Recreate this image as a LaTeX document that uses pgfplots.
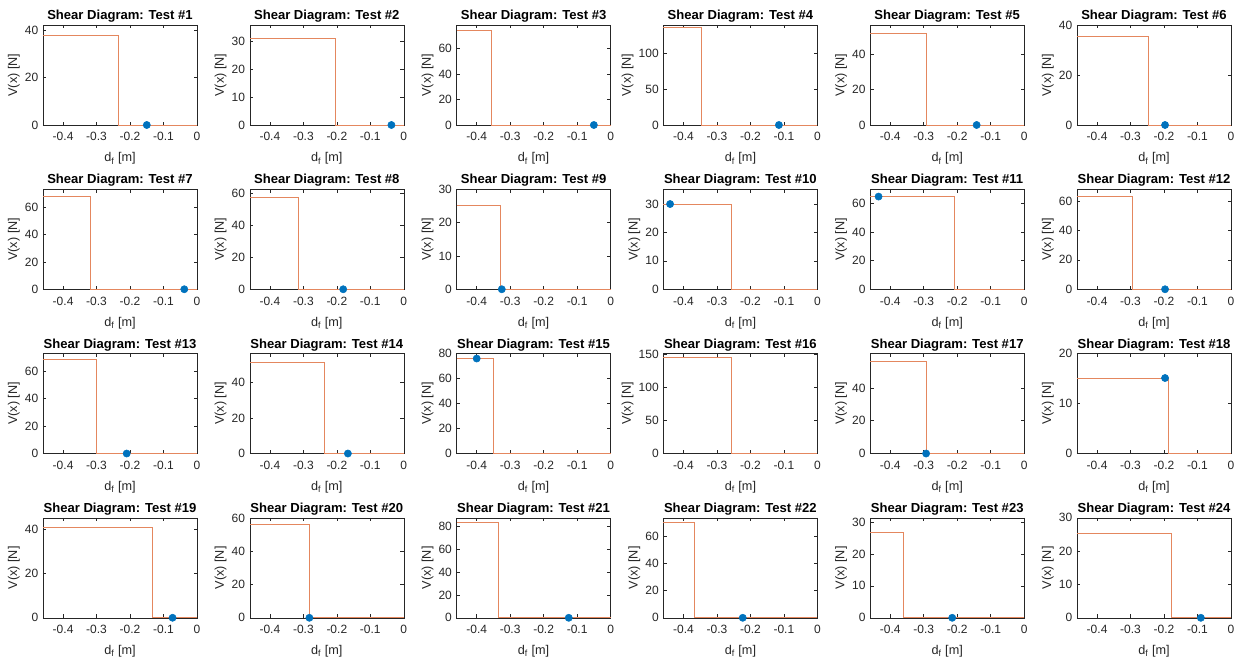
\documentclass[border=0pt]{standalone}
\usepackage{fontspec}
\setmainfont{Liberation Sans}
\usepackage{pgfplots}
\pgfplotsset{compat=1.18}
\usepgfplotslibrary{groupplots}
\definecolor{mblue}{HTML}{0072BD}
\definecolor{morange}{HTML}{D95319}
\definecolor{axgray}{HTML}{262626}
\pgfplotsset{
 shear/.style={
  scale only axis, width=115.5pt, height=75pt,
  xmin=-0.46, xmax=0, ymin=0, clip=false,
  xtick={-0.4,-0.3,-0.2,-0.1,0},
  axis line style={axgray, line width=0.4pt},
  tick style={axgray, line width=0.4pt},
  tick align=inside, major tick length=2.5pt,
  ticklabel style={font=\fontsize{9}{10}\selectfont, text=axgray},
  /pgf/number format/assume math mode=true,
  xticklabel style={/pgf/number format/fixed, /pgf/number format/precision=1, yshift=-2pt},
  xlabel={d\textsubscript{f} [m]}, ylabel={V(x) [N]},
  label style={font=\fontsize{9.5}{11}\selectfont, text=axgray},
  title style={font=\bfseries\fontsize{9.8}{11}\selectfont, yshift=-7.5pt},
  xlabel style={yshift=-2pt},
  ylabel style={yshift=-3pt},
 },
 sh/.style={morange!70!white, line width=0.5pt},
 dt/.style={only marks, mark=*, mark size=2.7pt, mblue, mark options={draw=mblue, fill=mblue}},
}
\begin{document}
\begin{tikzpicture}
\begin{groupplot}[shear, group style={group size=6 by 4, horizontal sep=39.6pt, vertical sep=48.2pt}]
\nextgroupplot[title={Shear Diagram: Test \#1}, ymax=42.1, ytick={0,20,40}]
\coordinate (TL) at (rel axis cs:0,1);
\addplot[sh] coordinates {(-0.46,37.9) (-0.235,37.9) (-0.235,0) (0,0)};
\addplot[dt] coordinates {(-0.150,0)};
\nextgroupplot[title={Shear Diagram: Test \#2}, ymax=36, ytick={0,10,20,30}]
\addplot[sh] coordinates {(-0.46,31.2) (-0.206,31.2) (-0.206,0) (0,0)};
\addplot[dt] coordinates {(-0.037,0)};
\nextgroupplot[title={Shear Diagram: Test \#3}, ymax=78.3, ytick={0,20,40,60}]
\addplot[sh] coordinates {(-0.46,74.3) (-0.357,74.3) (-0.357,0) (0,0)};
\addplot[dt] coordinates {(-0.050,0)};
\nextgroupplot[title={Shear Diagram: Test \#4}, ymax=139.5, ytick={0,50,100}]
\addplot[sh] coordinates {(-0.46,135.8) (-0.348,135.8) (-0.348,0) (0,0)};
\addplot[dt] coordinates {(-0.115,0)};
\nextgroupplot[title={Shear Diagram: Test \#5}, ymax=56.6, ytick={0,20,40}]
\addplot[sh] coordinates {(-0.46,51.9) (-0.293,51.9) (-0.293,0) (0,0)};
\addplot[dt] coordinates {(-0.142,0)};
\nextgroupplot[title={Shear Diagram: Test \#6}, ymax=40, ytick={0,20,40}]
\addplot[sh] coordinates {(-0.46,35.6) (-0.248,35.6) (-0.248,0) (0,0)};
\addplot[dt] coordinates {(-0.197,0)};
\nextgroupplot[title={Shear Diagram: Test \#7}, ymax=73.4, ytick={0,20,40,60}]
\addplot[sh] coordinates {(-0.46,68.5) (-0.320,68.5) (-0.320,0) (0,0)};
\addplot[dt] coordinates {(-0.038,0)};
\nextgroupplot[title={Shear Diagram: Test \#8}, ymax=62.5, ytick={0,20,40,60}]
\addplot[sh] coordinates {(-0.46,57.7) (-0.314,57.7) (-0.314,0) (0,0)};
\addplot[dt] coordinates {(-0.181,0)};
\nextgroupplot[title={Shear Diagram: Test \#9}, ymax=30, ytick={0,10,20,30}]
\addplot[sh] coordinates {(-0.46,25.2) (-0.330,25.2) (-0.330,0) (0,0)};
\addplot[dt] coordinates {(-0.325,0)};
\nextgroupplot[title={Shear Diagram: Test \#10}, ymax=35.2, ytick={0,10,20,30}]
\addplot[sh] coordinates {(-0.46,30) (-0.258,30) (-0.258,0) (0,0)};
\addplot[dt] coordinates {(-0.440,30)};
\nextgroupplot[title={Shear Diagram: Test \#11}, ymax=69.7, ytick={0,20,40,60}]
\addplot[sh] coordinates {(-0.46,64.6) (-0.208,64.6) (-0.208,0) (0,0)};
\addplot[dt] coordinates {(-0.435,64.6)};
\nextgroupplot[title={Shear Diagram: Test \#12}, ymax=67.9, ytick={0,20,40,60}]
\addplot[sh] coordinates {(-0.46,62.9) (-0.295,62.9) (-0.295,0) (0,0)};
\addplot[dt] coordinates {(-0.197,0)};
\nextgroupplot[title={Shear Diagram: Test \#13}, ymax=73, ytick={0,20,40,60}]
\addplot[sh] coordinates {(-0.46,68.5) (-0.300,68.5) (-0.300,0) (0,0)};
\addplot[dt] coordinates {(-0.210,0)};
\nextgroupplot[title={Shear Diagram: Test \#14}, ymax=56.3, ytick={0,20,40}]
\addplot[sh] coordinates {(-0.46,51.6) (-0.237,51.6) (-0.237,0) (0,0)};
\addplot[dt] coordinates {(-0.167,0)};
\nextgroupplot[title={Shear Diagram: Test \#15}, ymax=80, ytick={0,20,40,60,80}]
\addplot[sh] coordinates {(-0.46,76) (-0.350,76) (-0.350,0) (0,0)};
\addplot[dt] coordinates {(-0.400,76)};
\nextgroupplot[title={Shear Diagram: Test \#16}, ymax=151, ytick={0,50,100,150}]
\addplot[sh] coordinates {(-0.46,146) (-0.258,146) (-0.258,0) (0,0)};
\nextgroupplot[title={Shear Diagram: Test \#17}, ymax=61, ytick={0,20,40}]
\addplot[sh] coordinates {(-0.46,56.4) (-0.293,56.4) (-0.293,0) (0,0)};
\addplot[dt] coordinates {(-0.293,0)};
\nextgroupplot[title={Shear Diagram: Test \#18}, ymax=20, ytick={0,10,20}]
\addplot[sh] coordinates {(-0.46,15.1) (-0.188,15.1) (-0.188,0) (0,0)};
\addplot[dt] coordinates {(-0.197,15.1)};
\nextgroupplot[title={Shear Diagram: Test \#19}, ymax=45.3, ytick={0,20,40}]
\addplot[sh] coordinates {(-0.46,41.1) (-0.132,41.1) (-0.132,0) (0,0)};
\addplot[dt] coordinates {(-0.073,0)};
\nextgroupplot[title={Shear Diagram: Test \#20}, ymax=60.4, ytick={0,20,40,60}]
\addplot[sh] coordinates {(-0.46,56.3) (-0.282,56.3) (-0.282,0) (0,0)};
\addplot[dt] coordinates {(-0.282,0)};
\nextgroupplot[title={Shear Diagram: Test \#21}, ymax=87.3, ytick={0,20,40,60,80}]
\addplot[sh] coordinates {(-0.46,83.5) (-0.335,83.5) (-0.335,0) (0,0)};
\addplot[dt] coordinates {(-0.125,0)};
\nextgroupplot[title={Shear Diagram: Test \#22}, ymax=73.6, ytick={0,20,40,60}]
\addplot[sh] coordinates {(-0.46,69.9) (-0.367,69.9) (-0.367,0) (0,0)};
\addplot[dt] coordinates {(-0.223,0)};
\nextgroupplot[title={Shear Diagram: Test \#23}, ymax=31.3, ytick={0,10,20,30}]
\addplot[sh] coordinates {(-0.46,26.8) (-0.362,26.8) (-0.362,0) (0,0)};
\addplot[dt] coordinates {(-0.215,0)};
\nextgroupplot[title={Shear Diagram: Test \#24}, ymax=30, ytick={0,10,20,30}]
\addplot[sh] coordinates {(-0.46,25.4) (-0.178,25.4) (-0.178,0) (0,0)};
\addplot[dt] coordinates {(-0.090,0)};
\end{groupplot}
\pgfresetboundingbox
\path[use as bounding box] ([shift={(-32.25pt,18.75pt)}]TL) rectangle ++(932.25pt,-497.25pt);
\end{tikzpicture}
\end{document}
